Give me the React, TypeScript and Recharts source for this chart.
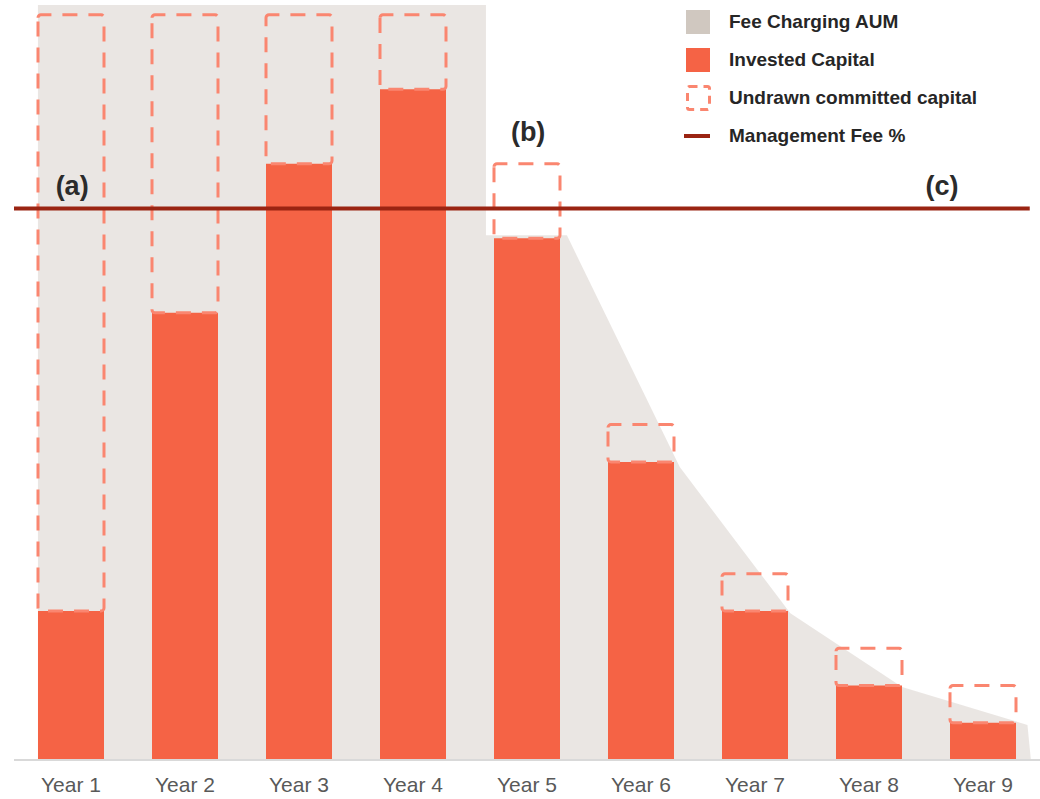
import React from 'react';
import {
  ComposedChart,
  Area,
  Bar,
  Line,
  Scatter,
  XAxis,
  YAxis,
} from 'recharts';

// Category labels and stacked capital values (same units as the AUM profile)
const years = ['Year 1', 'Year 2', 'Year 3', 'Year 4', 'Year 5', 'Year 6', 'Year 7', 'Year 8', 'Year 9'];
const investedCapital = [20, 60, 80, 90, 70, 40, 20, 10, 5];
const undrawnCapital = [80, 40, 20, 10, 10, 5, 5, 5, 5];

// Fee-charging AUM profile on a continuous year index (0 = Year 1 centre)
const feeAumX = [-0.29, 3.64, 3.64, 4.35, 5.34, 6.31, 7.29, 8.39, 8.42];
const feeAumY = [101.3, 101.3, 70.4, 70.4, 39.3, 19.7, 9.8, 4.7, 0];

// Management fee level and its span on the year index
const managementFeeLevel = 74;
const managementFeeSpan = [-0.5, 8.41];

// Phase markers
const markerText = ['(a)', '(b)', '(c)'];
const markerX = [0.01, 4.01, 7.64];
const markerY = [77, 84.3, 77];

const legendLabels = ['Fee Charging AUM', 'Invested Capital', 'Undrawn committed capital', 'Management Fee %'];

const Y_MAX = 101.3;

const COLORS = {
  aum: '#D0C8C0',
  invested: '#F56345',
  undrawn: '#FA8670',
  fee: '#9A2412',
  text: '#262626',
  axis: '#595959',
};

const barData = years.map((year, i) => ({
  year,
  invested: investedCapital[i],
  undrawn: undrawnCapital[i],
}));

const aumData = feeAumX.map((x, i) => ({ x, aum: feeAumY[i] }));
const feeData = managementFeeSpan.map((x) => ({ x, fee: managementFeeLevel }));
const markerData = markerText.map((label, i) => ({ label, x: markerX[i], y: markerY[i] }));

const MarkerLabel = (props: any) => {
  const { cx, cy, payload } = props;
  return (
    <text
      x={cx}
      y={cy}
      textAnchor="middle"
      dominantBaseline="central"
      fontFamily="'Liberation Sans', Arial, sans-serif"
      fontWeight="bold"
      fontSize={27}
      fill="#2b2b2b"
    >
      {payload.label}
    </text>
  );
};

const LegendBox = () => {
  const icon = (i: number) => {
    if (i === 0) return <rect x={2} y={1} width={24} height={24} fill={COLORS.aum} />;
    if (i === 1) return <rect x={2} y={1} width={24} height={24} fill={COLORS.invested} />;
    if (i === 2)
      return (
        <rect
          x={3.5}
          y={1.5}
          width={22}
          height={23}
          rx={2}
          fill="none"
          stroke={COLORS.undrawn}
          strokeWidth={3}
          strokeDasharray="8 6"
        />
      );
    return <line x1={0} y1={13} x2={26} y2={13} stroke={COLORS.fee} strokeWidth={4} />;
  };
  return (
    <div style={{ position: 'absolute', top: 9, left: 684 }}>
      {legendLabels.map((label, i) => (
        <div
          key={label}
          style={{ display: 'flex', alignItems: 'center', height: 26, marginBottom: i < 3 ? 12 : 0 }}
        >
          <svg width={28} height={26} style={{ marginRight: 17 }}>
            {icon(i)}
          </svg>
          <span
            style={{
              fontFamily: "'Liberation Sans', Arial, sans-serif",
              fontWeight: 'bold',
              fontSize: 19,
              color: COLORS.text,
              whiteSpace: 'nowrap',
            }}
          >
            {label}
          </span>
        </div>
      ))}
    </div>
  );
};

export default function App() {
  return (
    <div style={{ position: 'absolute', left: 0, top: 0, width: 1040, height: 799, background: '#fff' }}>
      <ComposedChart
        width={1040}
        height={799}
        data={barData}
        margin={{ top: 5, right: 0, bottom: 0, left: 14 }}
        barCategoryGap={24}
      >
        <XAxis
          xAxisId="cat"
          dataKey="year"
          type="category"
          tickLine={false}
          axisLine={{ stroke: '#D9D9D9', strokeWidth: 2 }}
          tick={{ fill: COLORS.axis, fontSize: 21, fontFamily: "'Liberation Sans', Arial, sans-serif" }}
          tickMargin={11}
          height={39}
        />
        <XAxis
          xAxisId="num"
          dataKey="x"
          type="number"
          domain={[-0.5, 8.5]}
          allowDataOverflow
          hide
        />
        <YAxis yAxisId="v" type="number" domain={[0, Y_MAX]} allowDataOverflow hide />

        <Area
          xAxisId="num"
          yAxisId="v"
          data={aumData}
          dataKey="aum"
          type="linear"
          stroke="none"
          fill={COLORS.aum}
          fillOpacity={0.45}
          isAnimationActive={false}
          name="Fee Charging AUM"
        />
        <Bar
          xAxisId="cat"
          yAxisId="v"
          dataKey="invested"
          stackId="capital"
          fill={COLORS.invested}
          isAnimationActive={false}
          name="Invested Capital"
        />
        <Bar
          xAxisId="cat"
          yAxisId="v"
          dataKey="undrawn"
          stackId="capital"
          fill="none"
          stroke={COLORS.undrawn}
          strokeWidth={3}
          strokeDasharray="15 11"
          radius={3}
          isAnimationActive={false}
          name="Undrawn committed capital"
        />
        <Line
          xAxisId="num"
          yAxisId="v"
          data={feeData}
          dataKey="fee"
          type="linear"
          stroke={COLORS.fee}
          strokeWidth={4}
          dot={false}
          activeDot={false}
          isAnimationActive={false}
          name="Management Fee %"
        />
        <Scatter
          xAxisId="num"
          yAxisId="v"
          data={markerData}
          dataKey="y"
          shape={<MarkerLabel />}
          isAnimationActive={false}
          legendType="none"
        />
      </ComposedChart>
      <LegendBox />
    </div>
  );
}
